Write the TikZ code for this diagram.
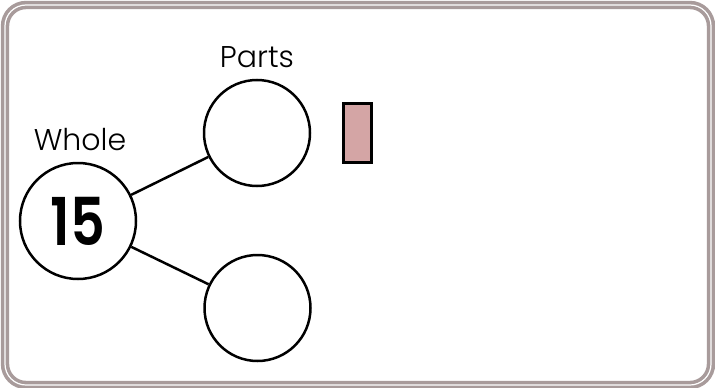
\documentclass[tikz,border=0pt]{standalone}
\usepackage{fontspec}
\setmainfont{Poppins}[UprightFont=* Light, BoldFont=* SemiBold]
\begin{document}
\begin{tikzpicture}[x=1pt,y=-1pt,
  framecol/.style={draw={rgb,255:red,168;green,155;blue,155}},
  partcircle/.style={circle,draw,line width=2.5pt,minimum size=106pt,inner sep=0pt},
  wholecircle/.style={circle,draw,line width=2.5pt,minimum size=116pt,inner sep=0pt},
  conn/.style={line width=2.5pt},
  lbl/.style={font=\fontsize{30}{30}\selectfont,inner sep=0pt}]
\useasboundingbox (0,0) rectangle (715,388);
\draw[framecol,line width=3.6pt,double=white,double distance=1.2pt,rounded corners=21pt] (5,5) rectangle (711,385);
\node[wholecircle] (whole) at (78,221) {\scalebox{0.82}[1]{\fontsize{66}{66}\selectfont\bfseries 15}};
\node[partcircle] (p1) at (257,133) {};
\node[partcircle] (p2) at (257.5,308) {};
\node[lbl] (wl) at (80,140) {Whole};
\node[lbl] (pl) at (257,57) {Parts};
\draw[conn] (whole) -- (p1);
\draw[conn] (whole) -- (p2);
\node[draw=black,line width=3pt,fill={rgb,255:red,212;green,165;blue,165},minimum width=28pt,minimum height=59pt,inner sep=0pt] (box) at (357.5,133) {};
\end{tikzpicture}
\end{document}
